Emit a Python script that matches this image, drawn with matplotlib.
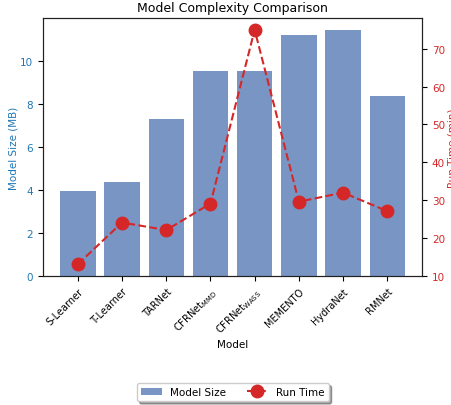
import matplotlib
matplotlib.use("Agg")
import matplotlib.pyplot as plt
import numpy as np

models = ["S-Learner", "T-Learner", "TARNet", r"CFRNet$_{\mathrm{MMD}}$",
          r"CFRNet$_{\mathrm{WASS}}$", "MEMENTO", "HydraNet", "RMNet"]
model_size = [3.95, 4.34, 7.3, 9.53, 9.53, 11.2, 11.4, 8.37]
run_time = [13.1, 24.1, 22.1, 29.1, 75.0, 29.6, 32.0, 27.1]

fig = plt.figure(figsize=(4.52, 4.06), dpi=100)
ax = fig.add_axes([0.095, 0.318, 0.839, 0.635])
x = np.arange(len(models))
bars = ax.bar(x, model_size, color="#4c72b0", alpha=0.75, width=0.8, label="Model Size")
ax.set_xticks(x)
ax.set_xticklabels(models, rotation=45, ha="right", fontsize=7, rotation_mode="anchor")
ax.set_xlabel("Model", fontsize=7.5, labelpad=2)
ax.set_ylabel("Model Size (MB)", color="#1f77b4", fontsize=7.5, labelpad=1)
ax.tick_params(axis="y", labelcolor="#1f77b4", labelsize=7.5)
ax.set_title("Model Complexity Comparison", fontsize=9, pad=5)

ax2 = ax.twinx()
line, = ax2.plot(x, run_time, color="#d62728", linestyle="--", marker="o",
                 markersize=9, linewidth=1.5, label="Run Time")
ax2.set_ylim(10, 78.1)
ax2.set_ylabel("Run Time (min)", color="#d62728", fontsize=7.5, labelpad=2)
ax2.tick_params(axis="y", labelcolor="#d62728", labelsize=7.5)

for a in (ax, ax2):
    for s in a.spines.values():
        s.set_color("#222222")

fig.legend([bars, line], ["Model Size", "Run Time"], loc="center",
           bbox_to_anchor=(0.515, 0.032), ncol=2, fontsize=7.5, shadow=True,
           fancybox=True, frameon=True)
fig.savefig("out.png", dpi=100)
